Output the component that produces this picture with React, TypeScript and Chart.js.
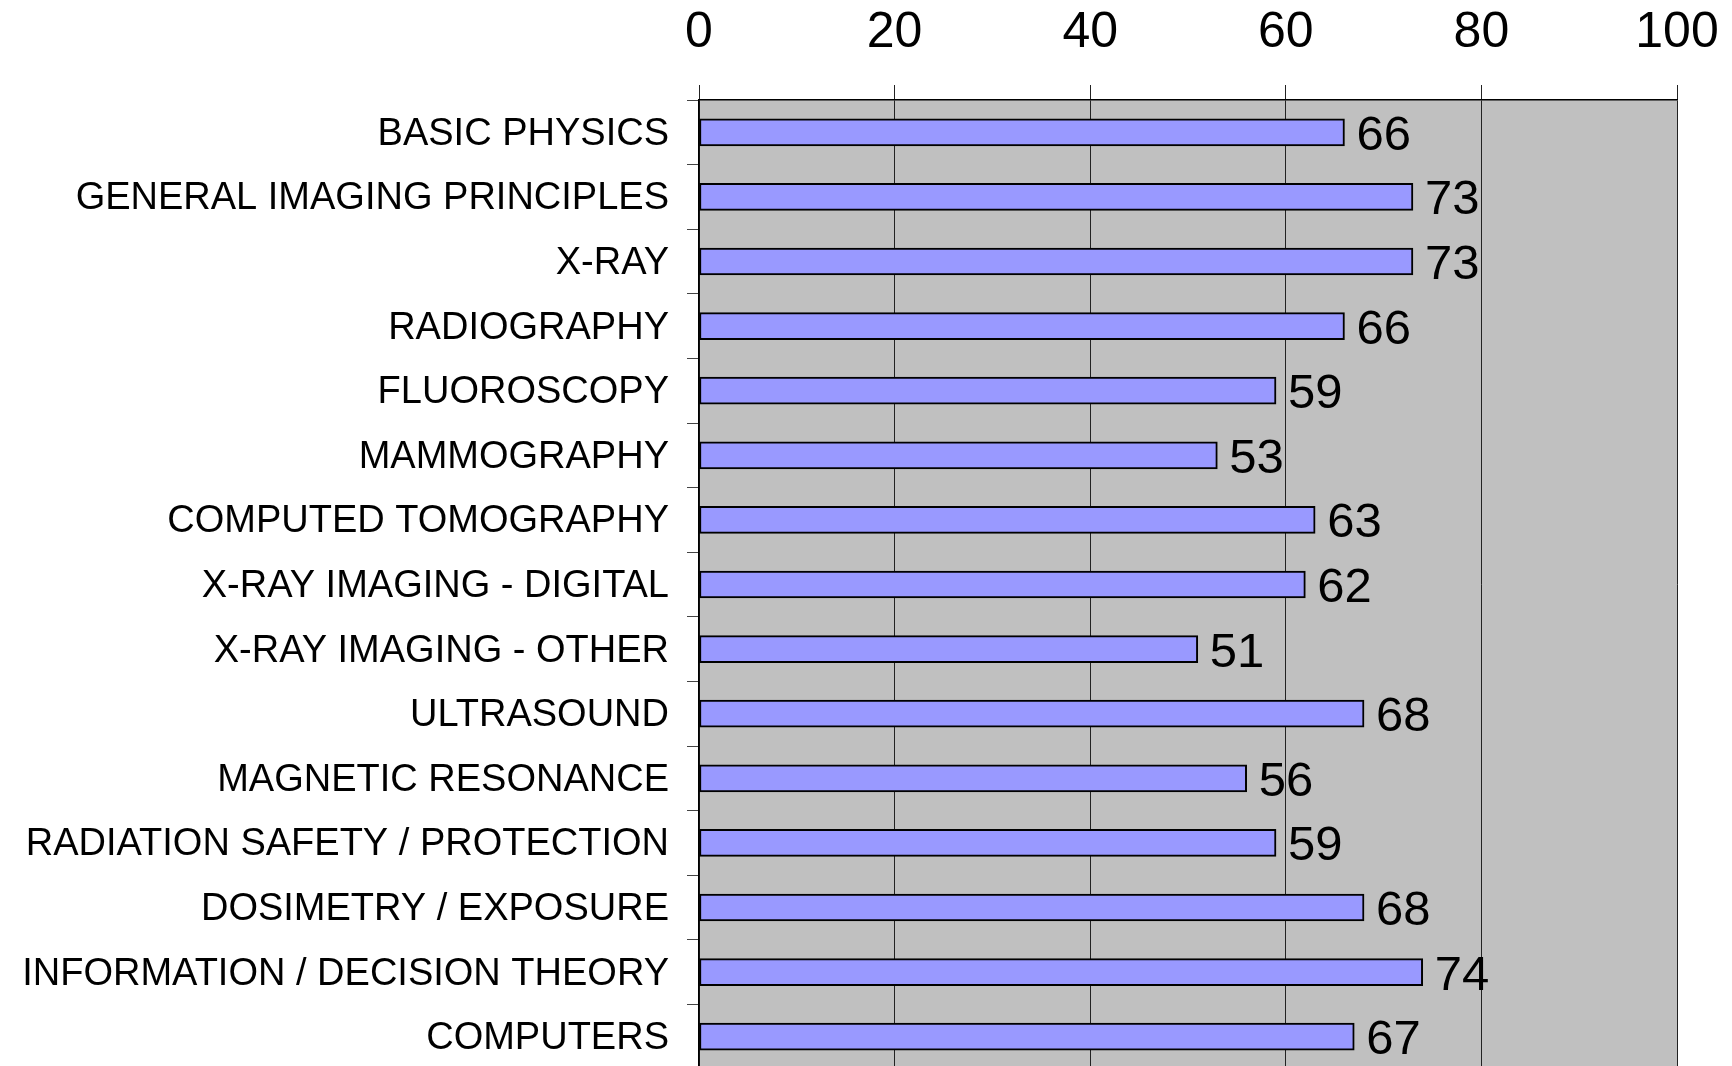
import React, { useEffect, useRef } from "react";
import { Chart, registerables } from "chart.js";

Chart.register(...registerables);

const categories = [
  "BASIC PHYSICS",
  "GENERAL IMAGING PRINCIPLES",
  "X-RAY",
  "RADIOGRAPHY",
  "FLUOROSCOPY",
  "MAMMOGRAPHY",
  "COMPUTED TOMOGRAPHY",
  "X-RAY IMAGING - DIGITAL",
  "X-RAY IMAGING - OTHER",
  "ULTRASOUND",
  "MAGNETIC RESONANCE",
  "RADIATION SAFETY / PROTECTION",
  "DOSIMETRY / EXPOSURE",
  "INFORMATION / DECISION THEORY",
  "COMPUTERS",
];

const scores = [66, 73, 73, 66, 59, 53, 63, 62, 51, 68, 56, 59, 68, 74, 67];

const xMin = 0;
const xMax = 100;
const xStep = 20;

const FONT = '"Liberation Sans", Arial, sans-serif';

export default function App() {
  const canvasRef = useRef<HTMLCanvasElement | null>(null);

  useEffect(() => {
    document.body.style.margin = "0";
    const canvas = canvasRef.current;
    if (!canvas) return;

    const bgPlugin = {
      id: "plotBg",
      beforeDraw(chart: any) {
        const { ctx, chartArea } = chart;
        ctx.save();
        ctx.fillStyle = "#C0C0C0";
        ctx.fillRect(
          chartArea.left,
          chartArea.top,
          chartArea.right - chartArea.left,
          chartArea.bottom - chartArea.top
        );
        ctx.restore();
      },
    };

    const valuePlugin = {
      id: "valueLabels",
      afterDatasetsDraw(chart: any) {
        const { ctx } = chart;
        const meta = chart.getDatasetMeta(0);
        ctx.save();
        ctx.font = `49px ${FONT}`;
        ctx.fillStyle = "#000";
        ctx.textAlign = "left";
        ctx.textBaseline = "middle";
        meta.data.forEach((bar: any, i: number) => {
          ctx.fillText(String(scores[i]), bar.x + 12, bar.y + 4);
        });
        ctx.restore();
      },
    };

    const zeroPad = (scale: any) => {
      scale.paddingTop = 0;
      scale.paddingBottom = 0;
      scale.paddingLeft = 0;
      scale.paddingRight = 0;
    };

    const chart = new Chart(canvas, {
      type: "bar",
      data: {
        labels: categories,
        datasets: [
          {
            data: scores,
            backgroundColor: "#9999FF",
            borderColor: "#000000",
            borderWidth: 2,
            borderSkipped: false,
            barThickness: 27,
          },
        ],
      },
      options: {
        indexAxis: "y",
        responsive: false,
        animation: false,
        layout: { padding: { left: 0, right: 55, top: 0, bottom: 0 } },
        plugins: {
          legend: { display: false },
          tooltip: { enabled: false },
        },
        scales: {
          x: {
            position: "top",
            min: xMin,
            max: xMax,
            afterFit(scale: any) {
              scale.height = 100;
              zeroPad(scale);
            },
            ticks: {
              stepSize: xStep,
              color: "#000",
              padding: 22,
              font: { family: FONT, size: 50 },
            },
            grid: {
              color: "#222",
              lineWidth: 1,
              tickLength: 15,
              drawOnChartArea: true,
            },
            border: { color: "#000", width: 1.5 },
          },
          y: {
            type: "category",
            afterFit(scale: any) {
              scale.width = 699;
              zeroPad(scale);
            },
            ticks: {
              color: "#000",
              padding: 18,
              labelOffset: 2,
              font: { family: FONT, size: 38 },
              autoSkip: false,
            },
            grid: {
              offset: true,
              drawOnChartArea: false,
              drawTicks: true,
              tickLength: 12,
              color: "#444",
            },
            border: { color: "#000", width: 1.5 },
          },
        },
      },
      plugins: [bgPlugin, valuePlugin],
    });

    return () => chart.destroy();
  }, []);

  return (
    <div style={{ width: 1732, height: 1066, overflow: "hidden", position: "relative", background: "#fff" }}>
      <canvas ref={canvasRef} width={1732} height={1069} style={{ display: "block", width: 1732, height: 1069 }} />
    </div>
  );
}
